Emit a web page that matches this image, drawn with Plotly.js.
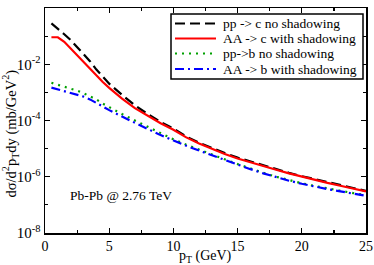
<!DOCTYPE html>
<html>
<head>
<meta charset="utf-8">
<script src="https://cdn.plot.ly/plotly-3.0.1.min.js"></script>
<style>html,body{margin:0;padding:0;background:#fff;}#chart{width:374px;height:265px;}</style>
</head>
<body>
<div id="chart"></div>
<script>
var pT = [0.5,1,1.5,2,2.5,3,3.5,4,4.5,5,6,7,8,9,10,11,12,13,14,15,16,17,18,19,20,21,22,23,24,25];

var ppC = [0.282,0.186,0.117,0.0724,0.0417,0.0240,0.0129,6.46e-3,3.47e-3,2.04e-3,
  8.13e-4,3.47e-4,1.70e-4,8.91e-5,5.13e-5,2.69e-5,1.62e-5,1.05e-5,6.92e-6,4.79e-6,
  3.47e-6,2.57e-6,1.91e-6,1.38e-6,1.05e-6,8.13e-7,6.31e-7,5.01e-7,3.98e-7,3.16e-7];

var aaC = [0.0912,0.0912,0.0631,0.0363,0.0209,0.0120,7.08e-3,3.98e-3,2.34e-3,1.45e-3,
  6.03e-4,2.75e-4,1.45e-4,7.94e-5,4.68e-5,2.51e-5,1.51e-5,9.77e-6,6.46e-6,4.47e-6,
  3.24e-6,2.40e-6,1.78e-6,1.32e-6,1.00e-6,7.76e-7,6.03e-7,4.79e-7,3.80e-7,3.02e-7];

var ppB = [2.19e-3,1.86e-3,1.62e-3,1.38e-3,1.15e-3,9.33e-4,7.41e-4,5.62e-4,3.98e-4,2.95e-4,
  1.70e-4,1.00e-4,5.89e-5,3.47e-5,2.14e-5,1.38e-5,9.12e-6,6.17e-6,4.17e-6,2.82e-6,
  1.95e-6,1.38e-6,1.00e-6,7.59e-7,5.89e-7,4.68e-7,3.80e-7,3.16e-7,2.63e-7,2.19e-7];

var aaB = [1.48e-3,1.29e-3,1.12e-3,9.55e-4,8.32e-4,7.08e-4,5.62e-4,4.17e-4,3.02e-4,2.34e-4,
  1.38e-4,8.51e-5,5.01e-5,3.02e-5,1.91e-5,1.26e-5,8.51e-6,5.75e-6,3.89e-6,2.69e-6,
  1.86e-6,1.32e-6,9.55e-7,7.24e-7,5.62e-7,4.47e-7,3.63e-7,3.02e-7,2.51e-7,2.09e-7];

var seriesNames = ['pp -> c no shadowing','AA -> c with shadowing','pp->b no shadowing','AA -> b with shadowing'];
var yTickVals = [1e-8,1e-6,1e-4,1e-2,1];
var yTickText = ['10<sup>-8</sup>','10<sup>-6</sup>','10<sup>-4</sup>','10<sup>-2</sup>','10<sup>0</sup>'];
var yMinorVals = [1e-7,1e-5,1e-3,1e-1];
var xTickVals = [0,5,10,15,20,25];
var annotationText = 'Pb-Pb @ 2.76 TeV';
var xTitle = 'p<sub>T</sub> (GeV)';
var yTitle = 'dσ/d<sup>2</sup>p<sub>T</sub>dy (mb/GeV<sup>2</sup>)';

var serif = 'Liberation Serif, Times New Roman, serif';
var colors = ['#000000','#ff0000','#00a000','#0000ff'];
var dashes = ['10px,5px','solid','2px,5px','9px,4px,2px,4px'];
var seriesY = [ppC, aaC, ppB, aaB];

var traces = seriesY.map(function(ys, i){
  return {x:pT, y:ys, name:seriesNames[i], mode:'lines',
    line:{color:colors[i], width:2.2, dash:dashes[i]}};
});

// plot area in pixels: left 45, top 8, width 321, height 225
var W = 374, H = 265, ML = 45, MR = 8, MT = 8, MB = 32;
var PW = W - ML - MR, PH = H - MT - MB;
function px(x){ return (x - ML) / PW; }
function py(y){ return 1 - (y - MT) / PH; }

var shapes = [{type:'rect', xref:'paper', yref:'paper', x0:px(171), x1:px(363), y0:py(79), y1:py(14),
  fillcolor:'#ffffff', line:{color:'#000', width:1.5}, layer:'above'}];
var annotations = [];
var rowY = [23.5, 38.5, 53.5, 69];
seriesNames.forEach(function(n, i){
  shapes.push({type:'line', xref:'paper', yref:'paper', x0:px(175), x1:px(216), y0:py(rowY[i]), y1:py(rowY[i]),
    line:{color:colors[i], width:2.2, dash:dashes[i]}, layer:'above'});
  annotations.push({text:n, xref:'paper', yref:'paper', x:px(221), y:py(rowY[i]), xanchor:'left', yanchor:'middle',
    showarrow:false, font:{family:serif, size:13.5, color:'#000'}});
});
annotations.push({text:annotationText, xref:'x', yref:'y', x:1.8, y:-6.67, xanchor:'left', yanchor:'middle',
  showarrow:false, font:{family:serif, size:13.5, color:'#000'}});
annotations.push({text:xTitle, xref:'paper', yref:'paper', x:px(206), y:py(256), xanchor:'center', yanchor:'middle',
  showarrow:false, font:{family:serif, size:14, color:'#000'}});
annotations.push({text:yTitle, xref:'paper', yref:'paper', x:px(10), y:py(133.5), xanchor:'center', yanchor:'middle',
  textangle:-90, showarrow:false, font:{family:serif, size:14.5, color:'#000'}});

var layout = {
  width:W, height:H,
  margin:{l:ML, r:MR, t:MT, b:MB},
  paper_bgcolor:'#ffffff', plot_bgcolor:'#ffffff',
  font:{family:serif, size:13, color:'#000'},
  showlegend:false,
  xaxis:{range:[0,25], tickmode:'array', tickvals:xTickVals, ticks:'inside', ticklen:5,
    tickwidth:1.2, tickcolor:'#000', showline:true, linecolor:'#000', linewidth:1.5,
    mirror:'ticks', showgrid:false, zeroline:false, automargin:false,
    minor:{tickmode:'linear', tick0:0, dtick:2.5, ticks:'inside', ticklen:3, tickwidth:1.2, tickcolor:'#000'},
    tickfont:{family:serif, size:14, color:'#000'}},
  yaxis:{type:'log', range:[-8,0], tickmode:'array', tickvals:yTickVals, ticktext:yTickText,
    ticks:'inside', ticklen:5, tickwidth:1.2, tickcolor:'#000', showline:true, linecolor:'#000',
    linewidth:1.5, mirror:'ticks', showgrid:false, zeroline:false, automargin:false,
    minor:{tickmode:'array', tickvals:yMinorVals, ticks:'inside', ticklen:3, tickwidth:1.2, tickcolor:'#000'},
    tickfont:{family:serif, size:15, color:'#000'}},
  shapes:shapes,
  annotations:annotations
};

Plotly.newPlot('chart', traces, layout, {displayModeBar:false, staticPlot:true});
</script>
</body>
</html>
